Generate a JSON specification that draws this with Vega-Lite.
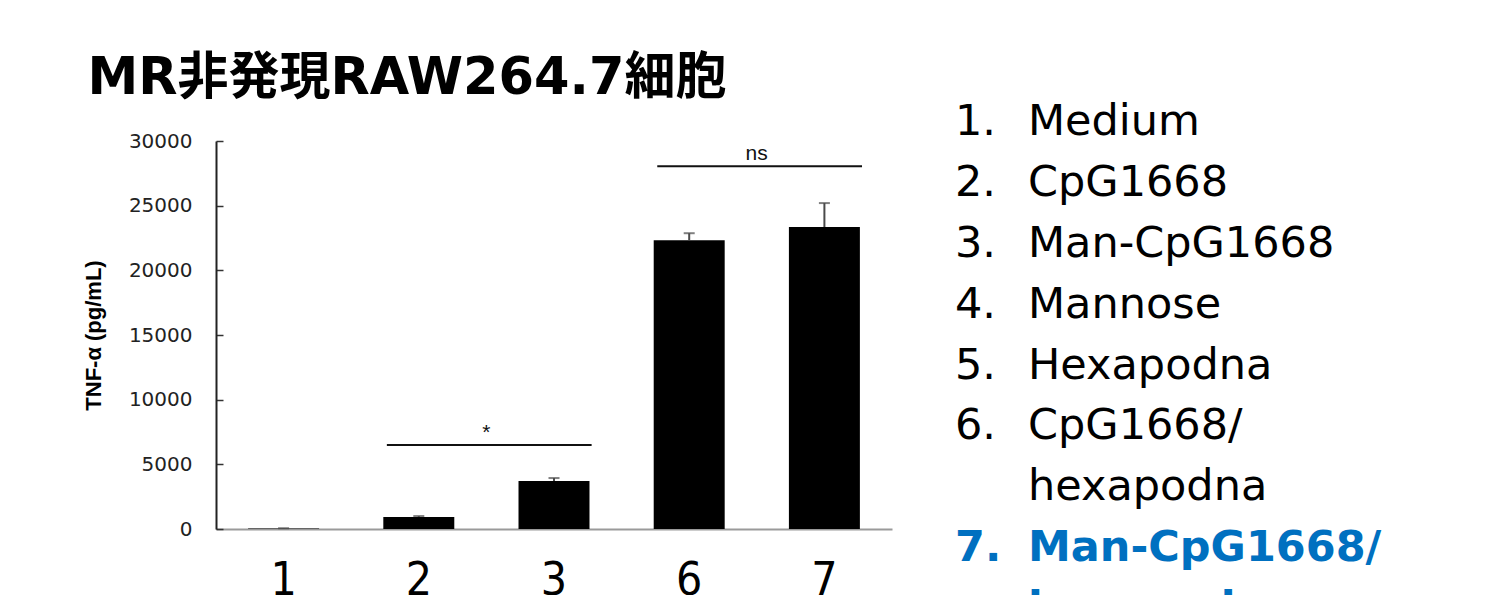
{
  "$schema": "https://vega.github.io/schema/vega-lite/v6.json",
  "background": "white",
  "padding": {"left": 82, "top": 53, "right": 5, "bottom": 5},
  "spacing": 63,
  "config": {"view": {"stroke": null}},
  "datasets": {
    "bars": [
      {"group": "1", "mean": 30, "upper": 60},
      {"group": "2", "mean": 930, "upper": 1000},
      {"group": "3", "mean": 3710, "upper": 3940},
      {"group": "6", "mean": 22330, "upper": 22870},
      {"group": "7", "mean": 23350, "upper": 25200}
    ],
    "sig": [
      {"from": "2", "to": "3", "y": 6500, "label": "*"},
      {"from": "6", "to": "7", "y": 28050, "label": "ns"}
    ],
    "list": [
      {"line": "01", "num": "1.", "label": "Medium", "hl": false},
      {"line": "02", "num": "2.", "label": "CpG1668", "hl": false},
      {"line": "03", "num": "3.", "label": "Man-CpG1668", "hl": false},
      {"line": "04", "num": "4.", "label": "Mannose", "hl": false},
      {"line": "05", "num": "5.", "label": "Hexapodna", "hl": false},
      {"line": "06", "num": "6.", "label": "CpG1668/", "hl": false},
      {"line": "07", "num": "", "label": "hexapodna", "hl": false},
      {"line": "08", "num": "7.", "label": "Man-CpG1668/", "hl": true},
      {"line": "09", "num": "", "label": "hexapodna", "hl": true}
    ]
  },
  "hconcat": [
    {
      "width": 676,
      "height": 388,
      "title": {
        "text": "MR非発現RAW264.7細胞",
        "anchor": "start",
        "frame": "bounds",
        "font": "DejaVu Sans, Noto Sans CJK JP",
        "fontSize": 51,
        "fontWeight": "bold",
        "color": "#000000",
        "offset": 26,
        "dx": 5
      },
      "layer": [
        {
          "data": {"name": "bars"},
          "mark": {"type": "bar", "color": "#000000"},
          "encoding": {
            "x": {
              "field": "group",
              "type": "nominal",
              "sort": null,
              "scale": {"paddingInner": 0.475, "paddingOuter": 0.2375},
              "axis": {
                "title": null,
                "labelAngle": 0,
                "labelFont": "DejaVu Sans Condensed, Roboto",
                "labelFontWeight": 300,
                "labelFontSize": 46,
                "labelColor": "#000000",
                "labelPadding": 29,
                "ticks": false,
                "tickSize": 0,
                "domainColor": "#9a9a9a",
                "domainWidth": 2
              }
            },
            "y": {
              "field": "mean",
              "type": "quantitative",
              "scale": {"domain": [0, 30000], "nice": false},
              "axis": {
                "title": "TNF-α (pg/mL)",
                "titleFont": "Liberation Sans",
                "titleFontSize": 22,
                "titleFontWeight": "bold",
                "titleColor": "#000000",
                "titlePadding": 23,
                "values": [0, 5000, 10000, 15000, 20000, 25000, 30000],
                "format": "d",
                "labelFont": "DejaVu Sans",
                "labelFontSize": 20,
                "labelColor": "#222222",
                "labelPadding": 31,
                "tickSize": -7,
                "tickColor": "#333333",
                "tickWidth": 1.5,
                "domainColor": "#222222",
                "domainWidth": 2,
                "grid": false
              }
            }
          }
        },
        {
          "data": {"name": "bars"},
          "mark": {"type": "rule", "color": "#4a4a4a", "strokeWidth": 2},
          "encoding": {
            "x": {"field": "group", "type": "nominal", "sort": null},
            "y": {"field": "mean", "type": "quantitative"},
            "y2": {"field": "upper"}
          }
        },
        {
          "data": {"name": "bars"},
          "mark": {"type": "tick", "color": "#4a4a4a", "thickness": 2, "size": 11},
          "encoding": {
            "x": {"field": "group", "type": "nominal", "sort": null},
            "y": {"field": "upper", "type": "quantitative"}
          }
        },
        {
          "data": {"name": "sig"},
          "mark": {"type": "rule", "color": "#111111", "strokeWidth": 2},
          "encoding": {
            "x": {"field": "from", "type": "nominal", "bandPosition": 0.05},
            "x2": {"field": "to", "bandPosition": 1.03},
            "y": {"field": "y", "type": "quantitative"}
          }
        },
        {
          "data": {"name": "sig"},
          "mark": {"type": "text", "baseline": "bottom", "font": "Liberation Sans", "fontSize": 21, "color": "#111111", "dy": -2},
          "encoding": {
            "x": {"field": "from", "type": "nominal", "bandPosition": 1.45},
            "y": {"field": "y", "type": "quantitative"},
            "text": {"field": "label"}
          }
        }
      ]
    },
    {
      "width": 440,
      "height": 487,
      "data": {"name": "list"},
      "encoding": {
        "y": {"field": "line", "type": "ordinal", "scale": {"type": "point", "padding": 0}, "axis": null}
      },
      "layer": [
        {
          "transform": [{"filter": "!datum.hl"}],
          "mark": {"type": "text", "align": "left", "baseline": "middle", "font": "DejaVu Sans", "fontSize": 43, "color": "#000000", "dy": -19},
          "encoding": {"x": {"value": 0}, "text": {"field": "num"}}
        },
        {
          "transform": [{"filter": "!datum.hl"}],
          "mark": {"type": "text", "align": "left", "baseline": "middle", "font": "DejaVu Sans", "fontSize": 43, "color": "#000000", "dy": -19, "dx": 73},
          "encoding": {"x": {"value": 0}, "text": {"field": "label"}}
        },
        {
          "transform": [{"filter": "datum.hl"}],
          "mark": {"type": "text", "align": "left", "baseline": "middle", "font": "DejaVu Sans", "fontSize": 43, "fontWeight": "bold", "color": "#0070C0", "dy": -19},
          "encoding": {"x": {"value": 0}, "text": {"field": "num"}}
        },
        {
          "transform": [{"filter": "datum.hl"}],
          "mark": {"type": "text", "align": "left", "baseline": "middle", "font": "DejaVu Sans", "fontSize": 43, "fontWeight": "bold", "color": "#0070C0", "dy": -19, "dx": 73},
          "encoding": {"x": {"value": 0}, "text": {"field": "label"}}
        }
      ]
    }
  ]
}
